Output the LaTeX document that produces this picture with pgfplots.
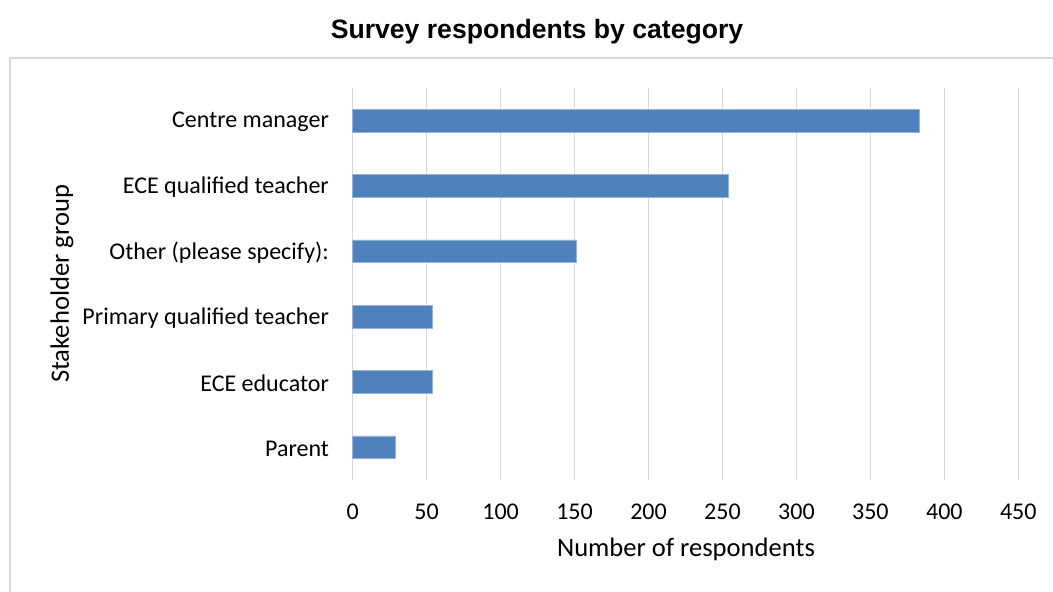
\documentclass[border=0pt]{standalone}
\usepackage{pgfplots}
\pgfplotsset{compat=1.18}
\usepackage{fontspec}
\setmainfont{Carlito}
\newfontfamily\titlefont{Liberation Sans}
\definecolor{barblue}{HTML}{4F81BD}
\definecolor{gridgray}{HTML}{D9D9D9}
\begin{document}
\begin{tikzpicture}[x=0.5pt,y=0.5pt]
\useasboundingbox (0,0) rectangle (1053,592);
\draw[gridgray, line width=1pt] (10,533.7) rectangle (1080,-30);
\node[font=\titlefont\bfseries\fontsize{13.3}{15}\selectfont] at (537,560) {Survey respondents by category};
\begin{axis}[
  at={(176.35pt,56pt)}, anchor=south west,
  width=332.8pt, height=196pt, scale only axis,
  xbar, bar width=11.35pt,
  xmin=0, xmax=450, ymin=-0.5, ymax=5.5,
  xtick={0,50,...,450},
  ytick={0,...,5},
  yticklabels={Parent, ECE educator, Primary qualified teacher, Other (please specify):, ECE qualified teacher, Centre manager},
  xmajorgrids, grid style={gridgray, line width=0.75pt},
  axis line style={draw=none},
  major tick length=0pt,
  /pgf/number format/assume math mode=true,
  ticklabel style={font=\fontsize{12}{14}\selectfont, inner sep=0pt},
  yticklabel style={anchor=east, xshift=-11.7pt, yshift=-0.8pt},
  xticklabel style={anchor=north, yshift=-11.75pt},
  clip=false,
]
\addplot[fill=barblue, draw=barblue!60!white, line width=0.4pt] coordinates {
  (29,0) (54,1) (54,2) (151,3) (254,4) (383,5)
};
\end{axis}
\node[rotate=90, font=\fontsize{13.3}{15}\selectfont] at (62,308) {Stakeholder group};
\node[font=\fontsize{13.3}{15}\selectfont] at (686,43) {Number of respondents};
\end{tikzpicture}
\end{document}
